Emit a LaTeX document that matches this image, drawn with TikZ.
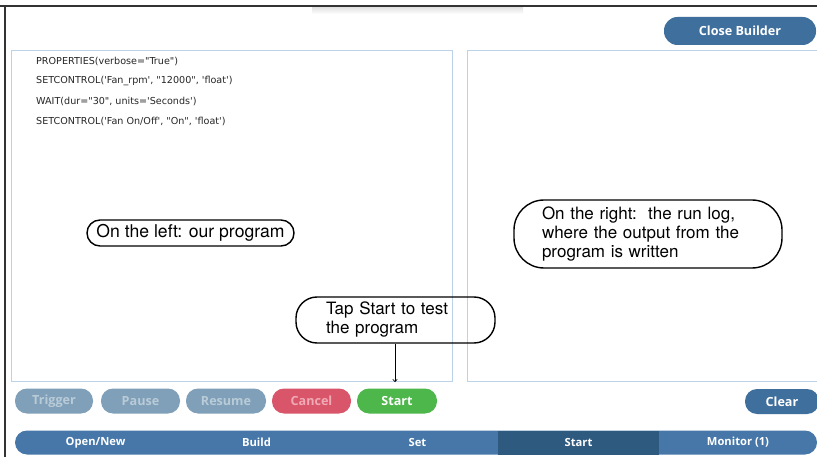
\documentclass[tikz,border=0pt]{standalone}
\usepackage{fontspec}
\setmainfont{TeX Gyre Heros}
\newfontfamily\codefont{DejaVu Sans}
\newfontfamily\btnfont{Open Sans}
\usetikzlibrary{arrows.meta}
\definecolor{panelborder}{HTML}{BCD2E8}
\definecolor{btnblue}{HTML}{3F6F9C}
\definecolor{disbtn}{HTML}{7FA0B8}
\definecolor{distext}{HTML}{BACBD8}
\definecolor{cancelred}{HTML}{D9566A}
\definecolor{canceltext}{HTML}{F0AAB5}
\definecolor{startgreen}{HTML}{4DB74B}
\definecolor{tabblue}{HTML}{4677A8}
\definecolor{tabdark}{HTML}{2E5A80}
\tikzset{
  panel/.style={draw=panelborder, line width=0.8pt},
  codeline/.style={anchor=west, inner sep=0pt, font=\codefont\fontsize{9.6}{11}\selectfont, text=black!85},
  btn/.style={rounded corners=12pt, minimum height=25pt, inner sep=0pt, font=\btnfont\bfseries\fontsize{12.6}{14}\selectfont},
  disabledbtn/.style={btn, fill=disbtn, text=distext},
  callout/.style={draw=black, line width=1.4pt, inner sep=0pt, font=\fontsize{17}{19}\selectfont},
  tablabel/.style={font=\btnfont\bfseries\fontsize{11.2}{13}\selectfont, text=white, inner sep=0pt},
}
\begin{document}
\begin{tikzpicture}[x=1pt,y=-1pt]
\useasboundingbox (0,0) rectangle (817,457);
\clip (0,0) rectangle (817,457);
\fill[white] (0,0) rectangle (817,457);
% faint shadow under top border
\shade[top color=black!12, bottom color=white] (312,7) rectangle (523,14);
% window frame
\draw[black!80, line width=1.3pt] (0,6) -- (817,6);
\draw[black!80, line width=1.3pt] (5,6) -- (5,457);
% close builder
\node[btn, fill=btnblue, text=white, minimum width=152pt, rounded corners=13.5pt, minimum height=28pt] (close) at (740,31) {Close Builder};
% panels
\node[panel, minimum width=441pt, minimum height=331pt, inner sep=0pt] (left) at (231.5,215.5) {};
\node[panel, minimum width=370pt, minimum height=331pt, inner sep=0pt] (right) at (652,215.5) {};
% code
\node[codeline] (c1) at (36,61) {PROPERTIES(verbose="True")};
\node[codeline] (c2) at (36,80.5) {SETCONTROL('Fan\_rpm', "12000", 'float')};
\node[codeline] (c3) at (36,101) {WAIT(dur="30", units='Seconds')};
\node[codeline] (c4) at (36,121) {SETCONTROL('Fan On/Off', "On", 'float')};
% callouts
\node[callout, rounded corners=13pt, minimum width=207pt, minimum height=26pt, font=\fontsize{17.6}{19}\selectfont] (lc) at (190.5,233) {On the left: our program};
\node[callout, rounded corners=30pt, minimum width=268pt, minimum height=68pt, text width=212pt, inner xsep=28pt, align=left] (rc) at (648,234) {On the right:\ \ the run log,\\where the output from the\\program is written};
\node[callout, rounded corners=21pt, minimum width=199pt, minimum height=46pt, text width=139pt, inner xsep=30pt, align=left] (tc) at (395.5,320) {Tap Start to test\\the program};
\coordinate (tip) at (395,382);
\draw[-{To[length=3pt,width=5pt]}, line width=0.6pt] (tc.south -| tip) -- (tip);
% buttons
\node[disabledbtn, minimum width=78pt] (trigger) at (54,401) {Trigger};
\node[disabledbtn, minimum width=79pt] (pause) at (140.5,401) {Pause};
\node[disabledbtn, minimum width=80pt] (resume) at (226,401) {Resume};
\node[btn, fill=cancelred, text=canceltext, minimum width=79pt] (cancel) at (311.5,401) {Cancel};
\node[btn, fill=startgreen, text=white, minimum width=80pt] (start) at (397,401) {Start};
\node[btn, fill=btnblue, text=white, minimum width=74pt] (clear) at (782,401.5) {Clear};
% tab bar
\node[fill=tabblue, rounded corners=12pt, minimum width=802pt, minimum height=24pt, inner sep=0pt] (tabbar) at (416,442.5) {};
\fill[tabdark] (498,430.5) rectangle (659,454.5);
\node[tablabel] (t1) at (95.5,442.5) {Open/New};
\node[tablabel] (t2) at (256.5,442.5) {Build};
\node[tablabel] (t3) at (417.5,442.5) {Set};
\node[tablabel] (t4) at (578.5,442.5) {Start};
\node[tablabel] (t5) at (738,442.5) {Monitor (1)};
\end{tikzpicture}
\end{document}
